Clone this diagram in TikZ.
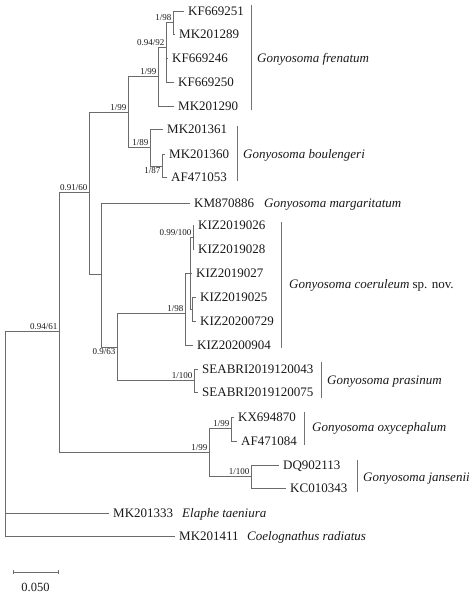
\documentclass[tikz,border=0pt]{standalone}
\usepackage{fontspec}
\setmainfont{Liberation Serif}
\definecolor{linecol}{gray}{0.42}
\definecolor{barcol}{gray}{0.45}
\definecolor{txtcol}{gray}{0.1}
\begin{document}
\begin{tikzpicture}[x=1pt,y=-1pt,
  br/.style={draw=linecol, line width=0.8pt},
  bar/.style={draw=barcol, line width=0.8pt},
  leaf/.style={anchor=west, inner xsep=4pt, inner ysep=0pt, text height=9pt, text depth=0pt,
               text=txtcol, font=\fontsize{13}{15}\selectfont},
  spname/.style={anchor=base west, inner sep=0pt, text=txtcol, font=\fontsize{13}{15}\selectfont},
  bsup/.style={anchor=south east, inner xsep=1.5pt, inner ysep=1pt, text=txtcol,
               font=\fontsize{9}{10}\selectfont},
  bsupb/.style={bsup, anchor=north east}]
\useasboundingbox (0,0) rectangle (474,599);

% internal nodes
\coordinate (root) at (5,331);
\coordinate (n61) at (59,331);
\coordinate (n60) at (89,192);
\coordinate (nfb) at (128,112);
\coordinate (nfr) at (158,76);
\coordinate (n92) at (166,47);
\coordinate (n98a) at (173,22);
\coordinate (n89) at (150,147);
\coordinate (n87) at (162,166);
\coordinate (nx) at (101,274);
\coordinate (n63) at (117,347);
\coordinate (n98b) at (185,313);
\coordinate (nb) at (190,273);
\coordinate (nc) at (193,237);
\coordinate (nd) at (192,309);
\coordinate (nsea) at (194,380);
\coordinate (noj) at (209,452);
\coordinate (nox) at (231,428);
\coordinate (nja) at (251,476);

% leaves
\node[leaf] (kf251) at (184,11) {KF669251};
\node[leaf] (mk289) at (175,34) {MK201289};
\node[leaf] (kf246) at (168,58) {KF669246};
\node[leaf] (kf250) at (174,82) {KF669250};
\node[leaf] (mk290) at (174,106) {MK201290};
\node[leaf] (mk361) at (163,129) {MK201361};
\node[leaf] (mk360) at (165,154) {MK201360};
\node[leaf] (af053) at (167,177) {AF471053};
\node[leaf] (km886) at (190,203) {KM870886};
\node[leaf] (kiz26) at (194,225) {KIZ2019026};
\node[leaf] (kiz28) at (194,249) {KIZ2019028};
\node[leaf] (kiz27) at (192,273) {KIZ2019027};
\node[leaf] (kiz25) at (196,297) {KIZ2019025};
\node[leaf] (kiz729) at (196,321) {KIZ20200729};
\node[leaf] (kiz904) at (193,345) {KIZ20200904};
\node[leaf] (sea43) at (198,369) {SEABRI2019120043};
\node[leaf] (sea75) at (198,392) {SEABRI2019120075};
\node[leaf] (kx870) at (234,417) {KX694870};
\node[leaf] (af084) at (237,441) {AF471084};
\node[leaf] (dq113) at (279,465) {DQ902113};
\node[leaf] (kc343) at (286,488) {KC010343};
\node[leaf] (mk333) at (109,513) {MK201333};
\node[leaf] (mk411) at (175,536) {MK201411};

% branches
\draw[br] (root) |- (n61);
\draw[br] (root) |- (mk333.west);
\draw[br] (root) |- (mk411.west);
\draw[br] (n61) |- (n60);
\draw[br] (n61) |- (noj);
\draw[br] (n60) |- (nfb);
\draw[br] (n60) |- (nx);
\draw[br] (nfb) |- (nfr);
\draw[br] (nfb) |- (n89);
\draw[br] (nfr) |- (n92);
\draw[br] (nfr) |- (mk290.west);
\draw[br] (n92) |- (n98a);
\draw[br] (n92) |- (kf246.west);
\draw[br] (n92) |- (kf250.west);
\draw[br] (n98a) |- (kf251.west);
\draw[br] (n98a) |- (mk289.west);
\draw[br] (n89) |- (mk361.west);
\draw[br] (n89) |- (n87);
\draw[br] (n87) |- (mk360.west);
\draw[br] (n87) |- (af053.west);
\draw[br] (nx) |- (km886.west);
\draw[br] (nx) |- (n63);
\draw[br] (n63) |- (n98b);
\draw[br] (n63) |- (nsea);
\draw[br] (n98b) |- (nb);
\draw[br] (n98b) |- (kiz904.west);
\draw[br] (nb) |- (nc);
\draw[br] (nb) |- (kiz27.west);
\draw[br] (nb) |- (nd);
\draw[br] (nc) |- (kiz26.west);
\draw[br] (nc) |- (kiz28.west);
\draw[br] (nd) |- (kiz25.west);
\draw[br] (nd) |- (kiz729.west);
\draw[br] (nsea) |- (sea43.west);
\draw[br] (nsea) |- (sea75.west);
\draw[br] (noj) |- (nox);
\draw[br] (noj) |- (nja);
\draw[br] (nox) |- (kx870.west);
\draw[br] (nox) |- (af084.west);
\draw[br] (nja) |- (dq113.west);
\draw[br] (nja) |- (kc343.west);

% support values
\node[bsup] (s61) at (n61) {0.94/61};
\node[bsup] (s60) at (n60) {0.91/60};
\node[bsup] (sfb) at (nfb) {1/99};
\node[bsup] (sfr) at (nfr) {1/99};
\node[bsup] (s92) at (n92) {0.94/92};
\node[bsup] (s98a) at (n98a) {1/98};
\node[bsup] (s89) at (n89) {1/89};
\node[bsupb] (s87) at (n87) {1/87};
\node[bsupb] (s63) at (n63) {0.9/63};
\node[bsup] (s98b) at (n98b) {1/98};
\node[bsup] (sc) at (nc) {0.99/100};
\node[bsup] (ssea) at (nsea) {1/100};
\node[bsup] (soj) at (noj) {1/99};
\node[bsup] (sox) at (nox) {1/99};
\node[bsup] (sja) at (nja) {1/100};

% clade bars
\draw[bar] (251,5) -- (251,110);
\draw[bar] (237,126) -- (237,181);
\draw[bar] (281,222) -- (281,348);
\draw[bar] (321,362) -- (321,398);
\draw[bar] (304,412) -- (304,445);
\draw[bar] (357,460) -- (357,492);

% species names
\node[spname] (gfr) at (257,62.4) {\textit{Gonyosoma frenatum}};
\node[spname] (gbo) at (243,158.4) {\textit{Gonyosoma boulengeri}};
\node[spname] (gma) at (264,207.4) {\textit{Gonyosoma margaritatum}};
\node[spname] (gco) at (289,288.4) {\textit{Gonyosoma coeruleum} sp. nov.};
\node[spname] (gpr) at (327,384.4) {\textit{Gonyosoma prasinum}};
\node[spname] (gox) at (312,431.4) {\textit{Gonyosoma oxycephalum}};
\node[spname] (gja) at (363,481.4) {\textit{Gonyosoma jansenii}};
\node[spname] (eta) at (182,517.4) {\textit{Elaphe taeniura}};
\node[spname] (cra) at (247,540.4) {\textit{Coelognathus radiatus}};

% scale bar
\draw[br] (13,572) -- (58,572);
\draw[br] (13,570) -- (13,574);
\draw[br] (58,570) -- (58,574);
\node[text=txtcol, font=\fontsize{12.5}{14}\selectfont, inner sep=0pt] (sbl) at (35.5,587) {0.050};
\end{tikzpicture}
\end{document}
